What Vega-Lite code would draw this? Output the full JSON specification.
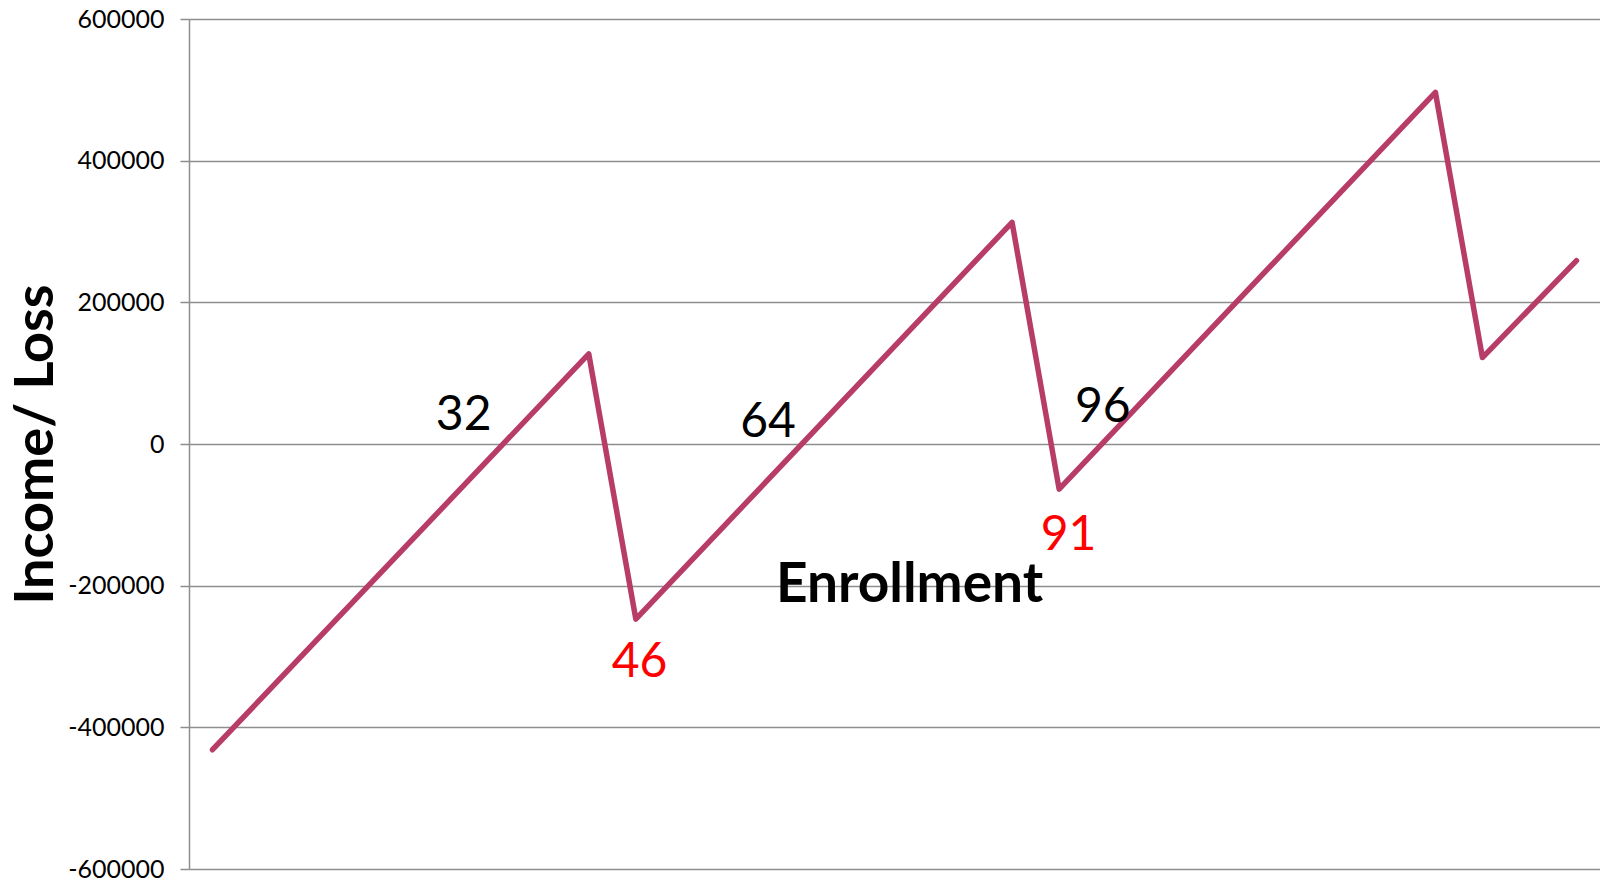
{
  "$schema": "https://vega.github.io/schema/vega-lite/v6.json",
  "width": 1411,
  "height": 850,
  "autosize": {"type": "none"},
  "padding": {"left": 189, "top": 19, "right": 0, "bottom": 15},
  "background": "white",
  "config": {
    "view": {"stroke": null},
    "font": "Lato"
  },
  "datasets": {
    "series": [
      {"point": 0, "income": -431600},
      {"point": 8, "income": 127200},
      {"point": 9, "income": -247200},
      {"point": 17, "income": 312900},
      {"point": 18, "income": -63700},
      {"point": 26, "income": 496500},
      {"point": 27, "income": 122000},
      {"point": 29, "income": 258900}
    ],
    "labels": [
      {"point": 5.34, "income": 20000, "label": "32", "kind": "breakeven"},
      {"point": 11.81, "income": 9700, "label": "64", "kind": "breakeven"},
      {"point": 18.93, "income": 31700, "label": "96", "kind": "breakeven"},
      {"point": 9.08, "income": -328600, "label": "46", "kind": "step"},
      {"point": 18.2, "income": -149400, "label": "91", "kind": "step"}
    ]
  },
  "layer": [
    {
      "data": {"name": "series"},
      "mark": {"type": "line", "color": "#B83C68", "strokeWidth": 5.5, "strokeCap": "round", "strokeJoin": "round"},
      "encoding": {
        "x": {
          "field": "point", "type": "quantitative",
          "scale": {"domain": [-0.5, 29.5], "nice": false, "zero": false},
          "axis": {
            "title": "Enrollment", "labels": false, "ticks": false, "domain": false, "grid": false,
            "titleFont": "Lato", "titleFontSize": 55, "titleFontWeight": "bold", "titleColor": "black",
            "titleX": 720, "titleY": -268, "titleAlign": "center", "titleBaseline": "alphabetic"
          }
        },
        "y": {
          "field": "income", "type": "quantitative",
          "scale": {"domain": [-600000, 600000], "nice": false},
          "axis": {
            "title": "Income/ Loss", "values": [-600000, -400000, -200000, 0, 200000, 400000, 600000],
            "labelExpr": "datum.value + ''", "labelFont": "Lato", "labelFontSize": 25, "labelColor": "black",
            "labelPadding": 16, "tickSize": 9, "tickColor": "#8E8E8E", "tickWidth": 1.5,
            "domainColor": "#8E8E8E", "domainWidth": 1.5,
            "grid": true, "gridColor": "#8E8E8E", "gridWidth": 1.5,
            "titleFont": "Lato", "titleFontSize": 54, "titleFontWeight": "bold", "titleColor": "black",
            "titleX": -137, "titleY": 425, "titleAngle": -90, "titleAlign": "center", "titleBaseline": "alphabetic"
          }
        }
      }
    },
    {
      "data": {"name": "labels"},
      "mark": {"type": "text", "font": "Lato", "fontSize": 48, "align": "center", "baseline": "alphabetic"},
      "encoding": {
        "x": {"field": "point", "type": "quantitative"},
        "y": {"field": "income", "type": "quantitative"},
        "text": {"field": "label"},
        "color": {
          "field": "kind", "type": "nominal",
          "scale": {"domain": ["breakeven", "step"], "range": ["#000000", "#FF0000"]},
          "legend": null
        }
      }
    }
  ]
}
